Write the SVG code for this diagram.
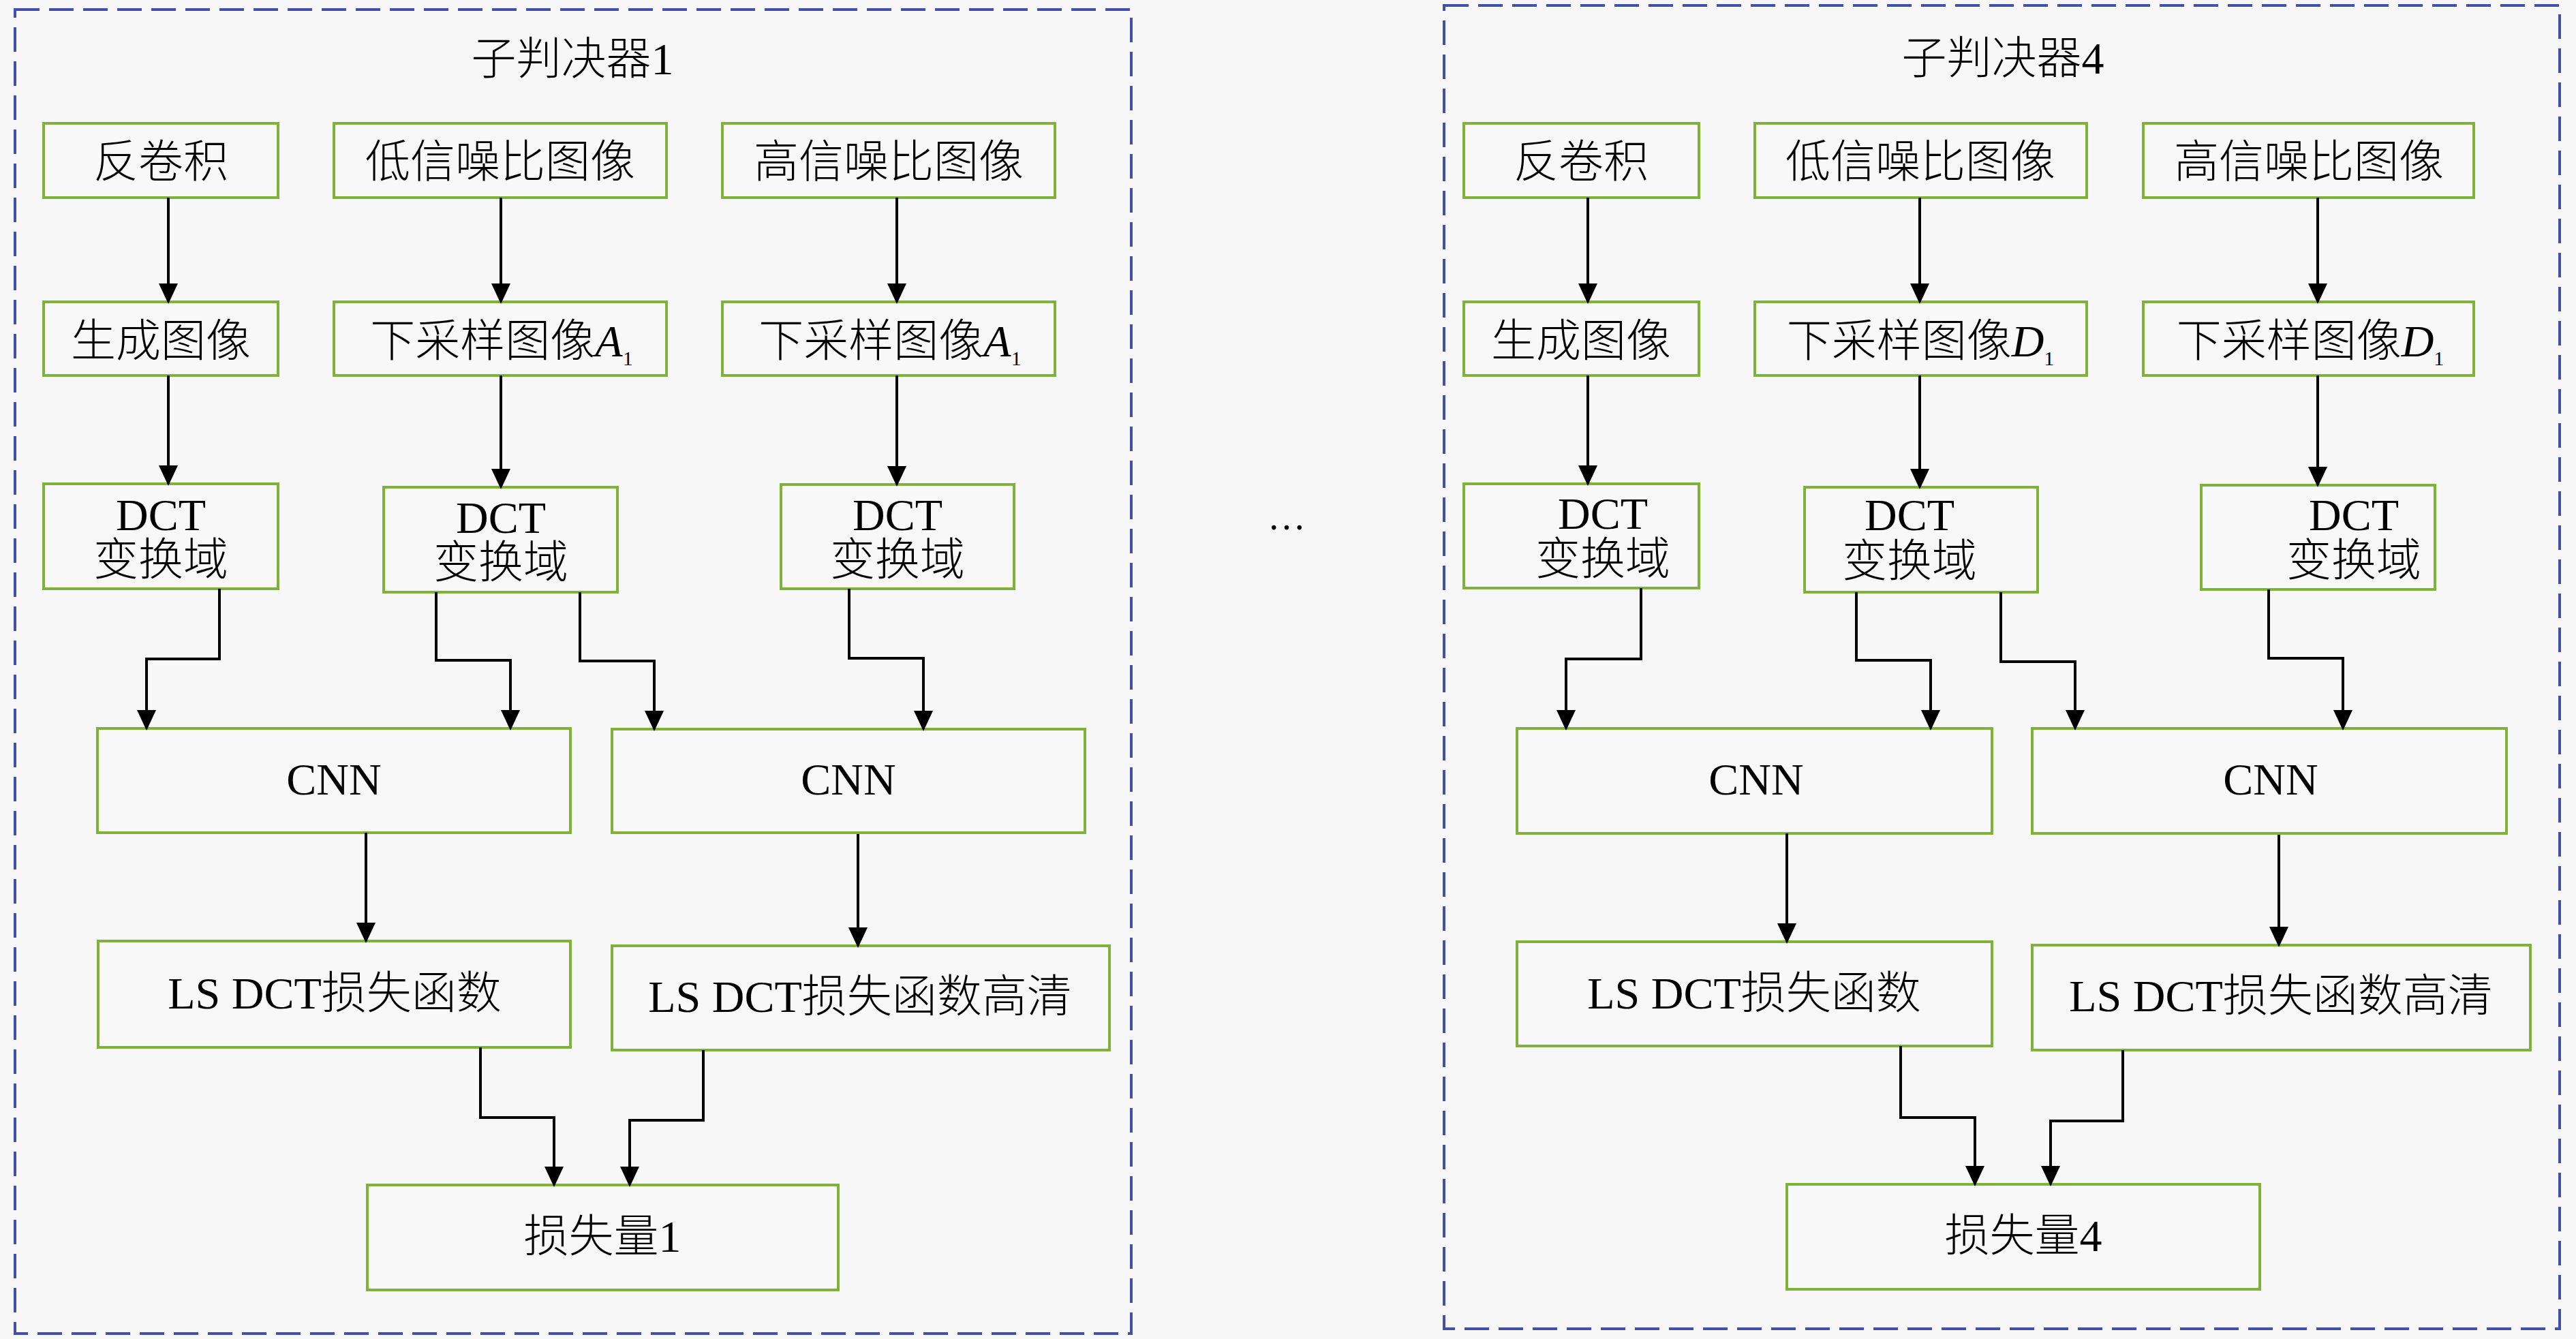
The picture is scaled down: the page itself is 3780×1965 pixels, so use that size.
<svg xmlns="http://www.w3.org/2000/svg" width="3780" height="1965" viewBox="0 0 3780 1965">
<defs>
<style>
.bg{fill:#f7f7f7}
.panel{fill:none;stroke:#4150a8;stroke-width:4;stroke-dasharray:36 14}
.box{fill:#f8f8f8;stroke:#7fb239;stroke-width:4}
.t{font-family:"Liberation Serif","Noto Sans CJK SC",serif;font-size:66px;text-anchor:middle;fill:#000;font-weight:300}
.i{font-style:italic}
.sub{font-size:30px}
.conn path{fill:none;stroke:#000;stroke-width:4;marker-end:url(#ah)}
</style>
<marker id="ah" markerUnits="userSpaceOnUse" markerWidth="30" markerHeight="28" refX="27" refY="14" orient="auto" viewBox="0 0 30 28">
<path d="M0,0 L30,14 L0,28 z" fill="#000"/>
</marker>
</defs>
<rect class="bg" x="0" y="0" width="3780" height="1965"/>

<g id="panel1">
<rect class="panel" x="22" y="14" width="1638" height="1943"/>
<text class="t" x="840" y="109">子判决器1</text>
</g>
<g id="panel4">
<rect class="panel" x="2119" y="8" width="1637" height="1942"/>
<text class="t" x="2939" y="108">子判决器4</text>
</g>
<text id="ellipsis" class="t" x="1888" y="777" style="font-size:56px">…</text>

<!-- left panel nodes -->
<g id="L_fjj"><rect class="box" x="64" y="181" width="344" height="109"/><text class="t" x="236" y="260">反卷积</text></g>
<g id="L_low"><rect class="box" x="490" y="181" width="488" height="109"/><text class="t" x="734" y="260">低信噪比图像</text></g>
<g id="L_high"><rect class="box" x="1060" y="181" width="488" height="109"/><text class="t" x="1304" y="260">高信噪比图像</text></g>
<g id="L_gen"><rect class="box" x="64" y="443" width="344" height="108"/><text class="t" x="236" y="523">生成图像</text></g>
<g id="L_dsA"><rect class="box" x="490" y="443" width="488" height="108"/><text class="t" x="736" y="523">下采样图像<tspan class="i">A</tspan><tspan class="sub" dy="13">1</tspan></text></g>
<g id="L_dsA2"><rect class="box" x="1060" y="443" width="488" height="108"/><text class="t" x="1306" y="523">下采样图像<tspan class="i">A</tspan><tspan class="sub" dy="13">1</tspan></text></g>
<g id="L_dct1"><rect class="box" x="64" y="710" width="344" height="154"/><text class="t" x="236" y="778">DCT</text><text class="t" x="236" y="844">变换域</text></g>
<g id="L_dct2"><rect class="box" x="563" y="715" width="343" height="154"/><text class="t" x="735" y="782">DCT</text><text class="t" x="735" y="848">变换域</text></g>
<g id="L_dct3"><rect class="box" x="1146" y="711" width="342" height="153"/><text class="t" x="1317" y="778">DCT</text><text class="t" x="1317" y="844">变换域</text></g>
<g id="L_cnn1"><rect class="box" x="143" y="1069" width="694" height="153"/><text class="t" x="490" y="1166">CNN</text></g>
<g id="L_cnn2"><rect class="box" x="898" y="1070" width="694" height="152"/><text class="t" x="1245" y="1166">CNN</text></g>
<g id="L_ls1"><rect class="box" x="144" y="1381" width="693" height="156"/><text class="t" x="491" y="1480">LS DCT损失函数</text></g>
<g id="L_ls2"><rect class="box" x="898" y="1388" width="730" height="153"/><text class="t" x="1262" y="1485">LS DCT损失函数高清</text></g>
<g id="L_loss"><rect class="box" x="539" y="1739" width="691" height="154"/><text class="t" x="884" y="1837">损失量1</text></g>

<!-- right panel nodes -->
<g id="R_fjj"><rect class="box" x="2148" y="181" width="345" height="109"/><text class="t" x="2320" y="260">反卷积</text></g>
<g id="R_low"><rect class="box" x="2575" y="181" width="487" height="109"/><text class="t" x="2818" y="260">低信噪比图像</text></g>
<g id="R_high"><rect class="box" x="3145" y="181" width="485" height="109"/><text class="t" x="3388" y="260">高信噪比图像</text></g>
<g id="R_gen"><rect class="box" x="2148" y="443" width="345" height="108"/><text class="t" x="2320" y="523">生成图像</text></g>
<g id="R_dsD"><rect class="box" x="2575" y="443" width="487" height="108"/><text class="t" x="2818" y="523">下采样图像<tspan class="i">D</tspan><tspan class="sub" dy="13">1</tspan></text></g>
<g id="R_dsD2"><rect class="box" x="3145" y="443" width="485" height="108"/><text class="t" x="3390" y="523">下采样图像<tspan class="i">D</tspan><tspan class="sub" dy="13">1</tspan></text></g>
<g id="R_dct1"><rect class="box" x="2148" y="710" width="345" height="153"/><text class="t" x="2352" y="776">DCT</text><text class="t" x="2352" y="843">变换域</text></g>
<g id="R_dct2"><rect class="box" x="2648" y="715" width="342" height="154"/><text class="t" x="2802" y="778">DCT</text><text class="t" x="2802" y="846">变换域</text></g>
<g id="R_dct3"><rect class="box" x="3230" y="712" width="343" height="153"/><text class="t" x="3454" y="778">DCT</text><text class="t" x="3454" y="845">变换域</text></g>
<g id="R_cnn1"><rect class="box" x="2226" y="1069" width="697" height="154"/><text class="t" x="2577" y="1166">CNN</text></g>
<g id="R_cnn2"><rect class="box" x="2982" y="1069" width="696" height="154"/><text class="t" x="3332" y="1166">CNN</text></g>
<g id="R_ls1"><rect class="box" x="2226" y="1382" width="697" height="153"/><text class="t" x="2574" y="1480">LS DCT损失函数</text></g>
<g id="R_ls2"><rect class="box" x="2982" y="1387" width="731" height="154"/><text class="t" x="3347" y="1484">LS DCT损失函数高清</text></g>
<g id="R_loss"><rect class="box" x="2622" y="1738" width="694" height="154"/><text class="t" x="2969" y="1836">损失量4</text></g>

<g id="connectors" class="conn">
<path d="M247,290 V443"/>
<path d="M735,290 V443"/>
<path d="M1316,290 V443"/>
<path d="M247,551 V710"/>
<path d="M735,551 V715"/>
<path d="M1316,551 V711"/>
<path d="M322,864 V967 H215 V1069"/>
<path d="M640,869 V969 H749 V1069"/>
<path d="M851,869 V970 H960 V1070"/>
<path d="M1246,864 V966 H1355 V1070"/>
<path d="M537,1222 V1381"/>
<path d="M1259,1224 V1388"/>
<path d="M705,1537 V1640 H813 V1739"/>
<path d="M1032,1541 V1644 H924 V1739"/>

<path d="M2330,290 V443"/>
<path d="M2817,290 V443"/>
<path d="M3401,290 V443"/>
<path d="M2330,551 V710"/>
<path d="M2817,551 V715"/>
<path d="M3401,551 V712"/>
<path d="M2408,863 V967 H2298 V1069"/>
<path d="M2724,869 V969 H2833 V1069"/>
<path d="M2936,869 V971 H3045 V1069"/>
<path d="M3329,865 V966 H3438 V1069"/>
<path d="M2622,1223 V1382"/>
<path d="M3344,1225 V1387"/>
<path d="M2789,1535 V1640 H2898 V1738"/>
<path d="M3115,1541 V1645 H3009 V1738"/>
</g>
</svg>
